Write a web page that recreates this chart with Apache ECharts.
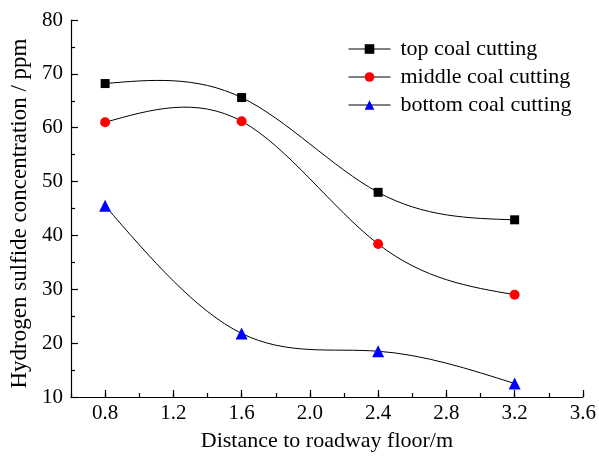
<!DOCTYPE html>
<html>
<head>
    <meta charset="UTF-8">
    <title>Hydrogen sulfide concentration</title>
    <script src="https://cdn.jsdelivr.net/npm/echarts@6.0.0/dist/echarts.min.js"></script>
    <style>
        html, body { margin: 0; padding: 0; background: #fff; }
        #chart { width: 599px; height: 457px; }
    </style>
</head>
<body>
    <div id="chart"></div>
    <script>
        // data
        const distance = [0.8, 1.6, 2.4, 3.2];
        const topCut = [68.2, 65.6, 48.0, 42.9];
        const middleCut = [61.0, 61.2, 38.4, 29.0];
        const bottomCut = [45.5, 21.8, 18.5, 12.5];
        const xMajorTicks = [0.8, 1.2, 1.6, 2.0, 2.4, 2.8, 3.2, 3.6];
        const seriesNames = ['top coal cutting', 'middle coal cutting', 'bottom coal cutting'];

        const font = 'Liberation Serif';
        const pairs = ys => distance.map((x, i) => [x, ys[i]]);

        // natural cubic spline (like Origin's "spline" connection) -> slopes at each knot
        function splineSlopes(xs, ys) {
            const n = xs.length;
            const h = [], a = [], b = [], c = [], d = [];
            for (let i = 0; i < n - 1; i++) h.push(xs[i + 1] - xs[i]);
            const M = new Array(n).fill(0);
            // tridiagonal system for interior second derivatives
            for (let i = 1; i < n - 1; i++) {
                a[i] = h[i - 1];
                b[i] = 2 * (h[i - 1] + h[i]);
                c[i] = h[i];
                d[i] = 6 * ((ys[i + 1] - ys[i]) / h[i] - (ys[i] - ys[i - 1]) / h[i - 1]);
            }
            for (let i = 2; i < n - 1; i++) {
                const m = a[i] / b[i - 1];
                b[i] -= m * c[i - 1];
                d[i] -= m * d[i - 1];
            }
            for (let i = n - 2; i >= 1; i--) {
                M[i] = (d[i] - (i < n - 2 ? c[i] * M[i + 1] : 0)) / b[i];
            }
            // slopes at both ends of each segment
            const segs = [];
            for (let i = 0; i < n - 1; i++) {
                const s = (ys[i + 1] - ys[i]) / h[i];
                segs.push({
                    d0: s - h[i] * (2 * M[i] + M[i + 1]) / 6,
                    d1: s + h[i] * (M[i] + 2 * M[i + 1]) / 6
                });
            }
            return segs;
        }

        function curveSeries(ys) {
            const segs = splineSlopes(distance, ys);
            return {
                type: 'custom',
                xAxisIndex: 0,
                silent: true,
                z: 1,
                data: pairs(ys),
                encode: { x: 0, y: 1 },
                renderItem: function (params, api) {
                    const i = params.dataIndex;
                    if (i >= distance.length - 1) return;
                    const x0 = distance[i], x1 = distance[i + 1];
                    const h = x1 - x0;
                    const p0 = api.coord([x0, ys[i]]);
                    const p1 = api.coord([x0 + h / 3, ys[i] + h / 3 * segs[i].d0]);
                    const p2 = api.coord([x1 - h / 3, ys[i + 1] - h / 3 * segs[i].d1]);
                    const p3 = api.coord([x1, ys[i + 1]]);
                    return {
                        type: 'bezierCurve',
                        shape: {
                            x1: p0[0], y1: p0[1],
                            cpx1: p1[0], cpy1: p1[1],
                            cpx2: p2[0], cpy2: p2[1],
                            x2: p3[0], y2: p3[1]
                        },
                        style: { stroke: '#000', lineWidth: 1, fill: null }
                    };
                }
            };
        }

        function markerSeries(name, ys, symbol, size, color) {
            return {
                name: name,
                type: 'line',
                xAxisIndex: 0,
                z: 3,
                symbol: symbol,
                symbolSize: size,
                data: pairs(ys),
                lineStyle: { color: '#000', width: 1, opacity: 0 },
                itemStyle: { color: color },
                emphasis: { disabled: true }
            };
        }

        const chart = echarts.init(document.getElementById('chart'));
        chart.setOption({
            animation: false,
            backgroundColor: '#fff',
            grid: { left: 68, right: 16, top: 20, bottom: 59 },
            legend: {
                orient: 'vertical',
                left: 343,
                top: 33,
                itemWidth: 42,
                itemHeight: 12,
                itemGap: 6,
                textStyle: { fontFamily: font, fontSize: 22, color: '#000', padding: [0, 0, 0, 5] },
                data: seriesNames.map(n => ({ name: n, lineStyle: { color: '#000', width: 1, opacity: 1 } }))
            },
            xAxis: [{
                type: 'value',
                min: 0.6,
                max: 3.6,
                name: 'Distance to roadway floor/m',
                nameLocation: 'middle',
                nameGap: 33,
                nameTextStyle: { fontFamily: font, fontSize: 22, color: '#000' },
                axisLine: { lineStyle: { color: '#000', width: 1.2 } },
                axisTick: { inside: true, length: 7, customValues: xMajorTicks, lineStyle: { color: '#000', width: 1.2 } },
                axisLabel: {
                    customValues: xMajorTicks,
                    formatter: v => v.toFixed(1),
                    fontFamily: font, fontSize: 21, color: '#000', margin: 6
                },
                splitLine: { show: false }
            }, {
                // minor ticks every 0.2
                type: 'value',
                position: 'bottom',
                min: 0.6,
                max: 3.6,
                interval: 0.2,
                axisLine: { show: false },
                axisTick: { inside: true, length: 4, lineStyle: { color: '#000', width: 1.2 } },
                axisLabel: { show: false },
                splitLine: { show: false }
            }],
            yAxis: {
                type: 'value',
                min: 10,
                max: 80,
                interval: 10,
                name: 'Hydrogen sulfide concentration / ppm',
                nameLocation: 'middle',
                nameGap: 40,
                nameTextStyle: { fontFamily: font, fontSize: 23, color: '#000', padding: [0, 10, 0, 0] },
                axisLine: { show: true, lineStyle: { color: '#000', width: 1.2 } },
                axisTick: { show: true, inside: true, length: 7, lineStyle: { color: '#000', width: 1.2 } },
                minorTick: { show: true, splitNumber: 2, length: 4, lineStyle: { color: '#000', width: 1.2 } },
                axisLabel: { fontFamily: font, fontSize: 21, color: '#000', margin: 8 },
                splitLine: { show: false }
            },
            series: [
                curveSeries(topCut),
                curveSeries(middleCut),
                curveSeries(bottomCut),
                markerSeries(seriesNames[0], topCut, 'rect', 9, '#000'),
                markerSeries(seriesNames[1], middleCut, 'circle', 10, '#ff0000'),
                markerSeries(seriesNames[2], bottomCut, 'triangle', 12, '#0000ff')
            ]
        });
    </script>
</body>
</html>
